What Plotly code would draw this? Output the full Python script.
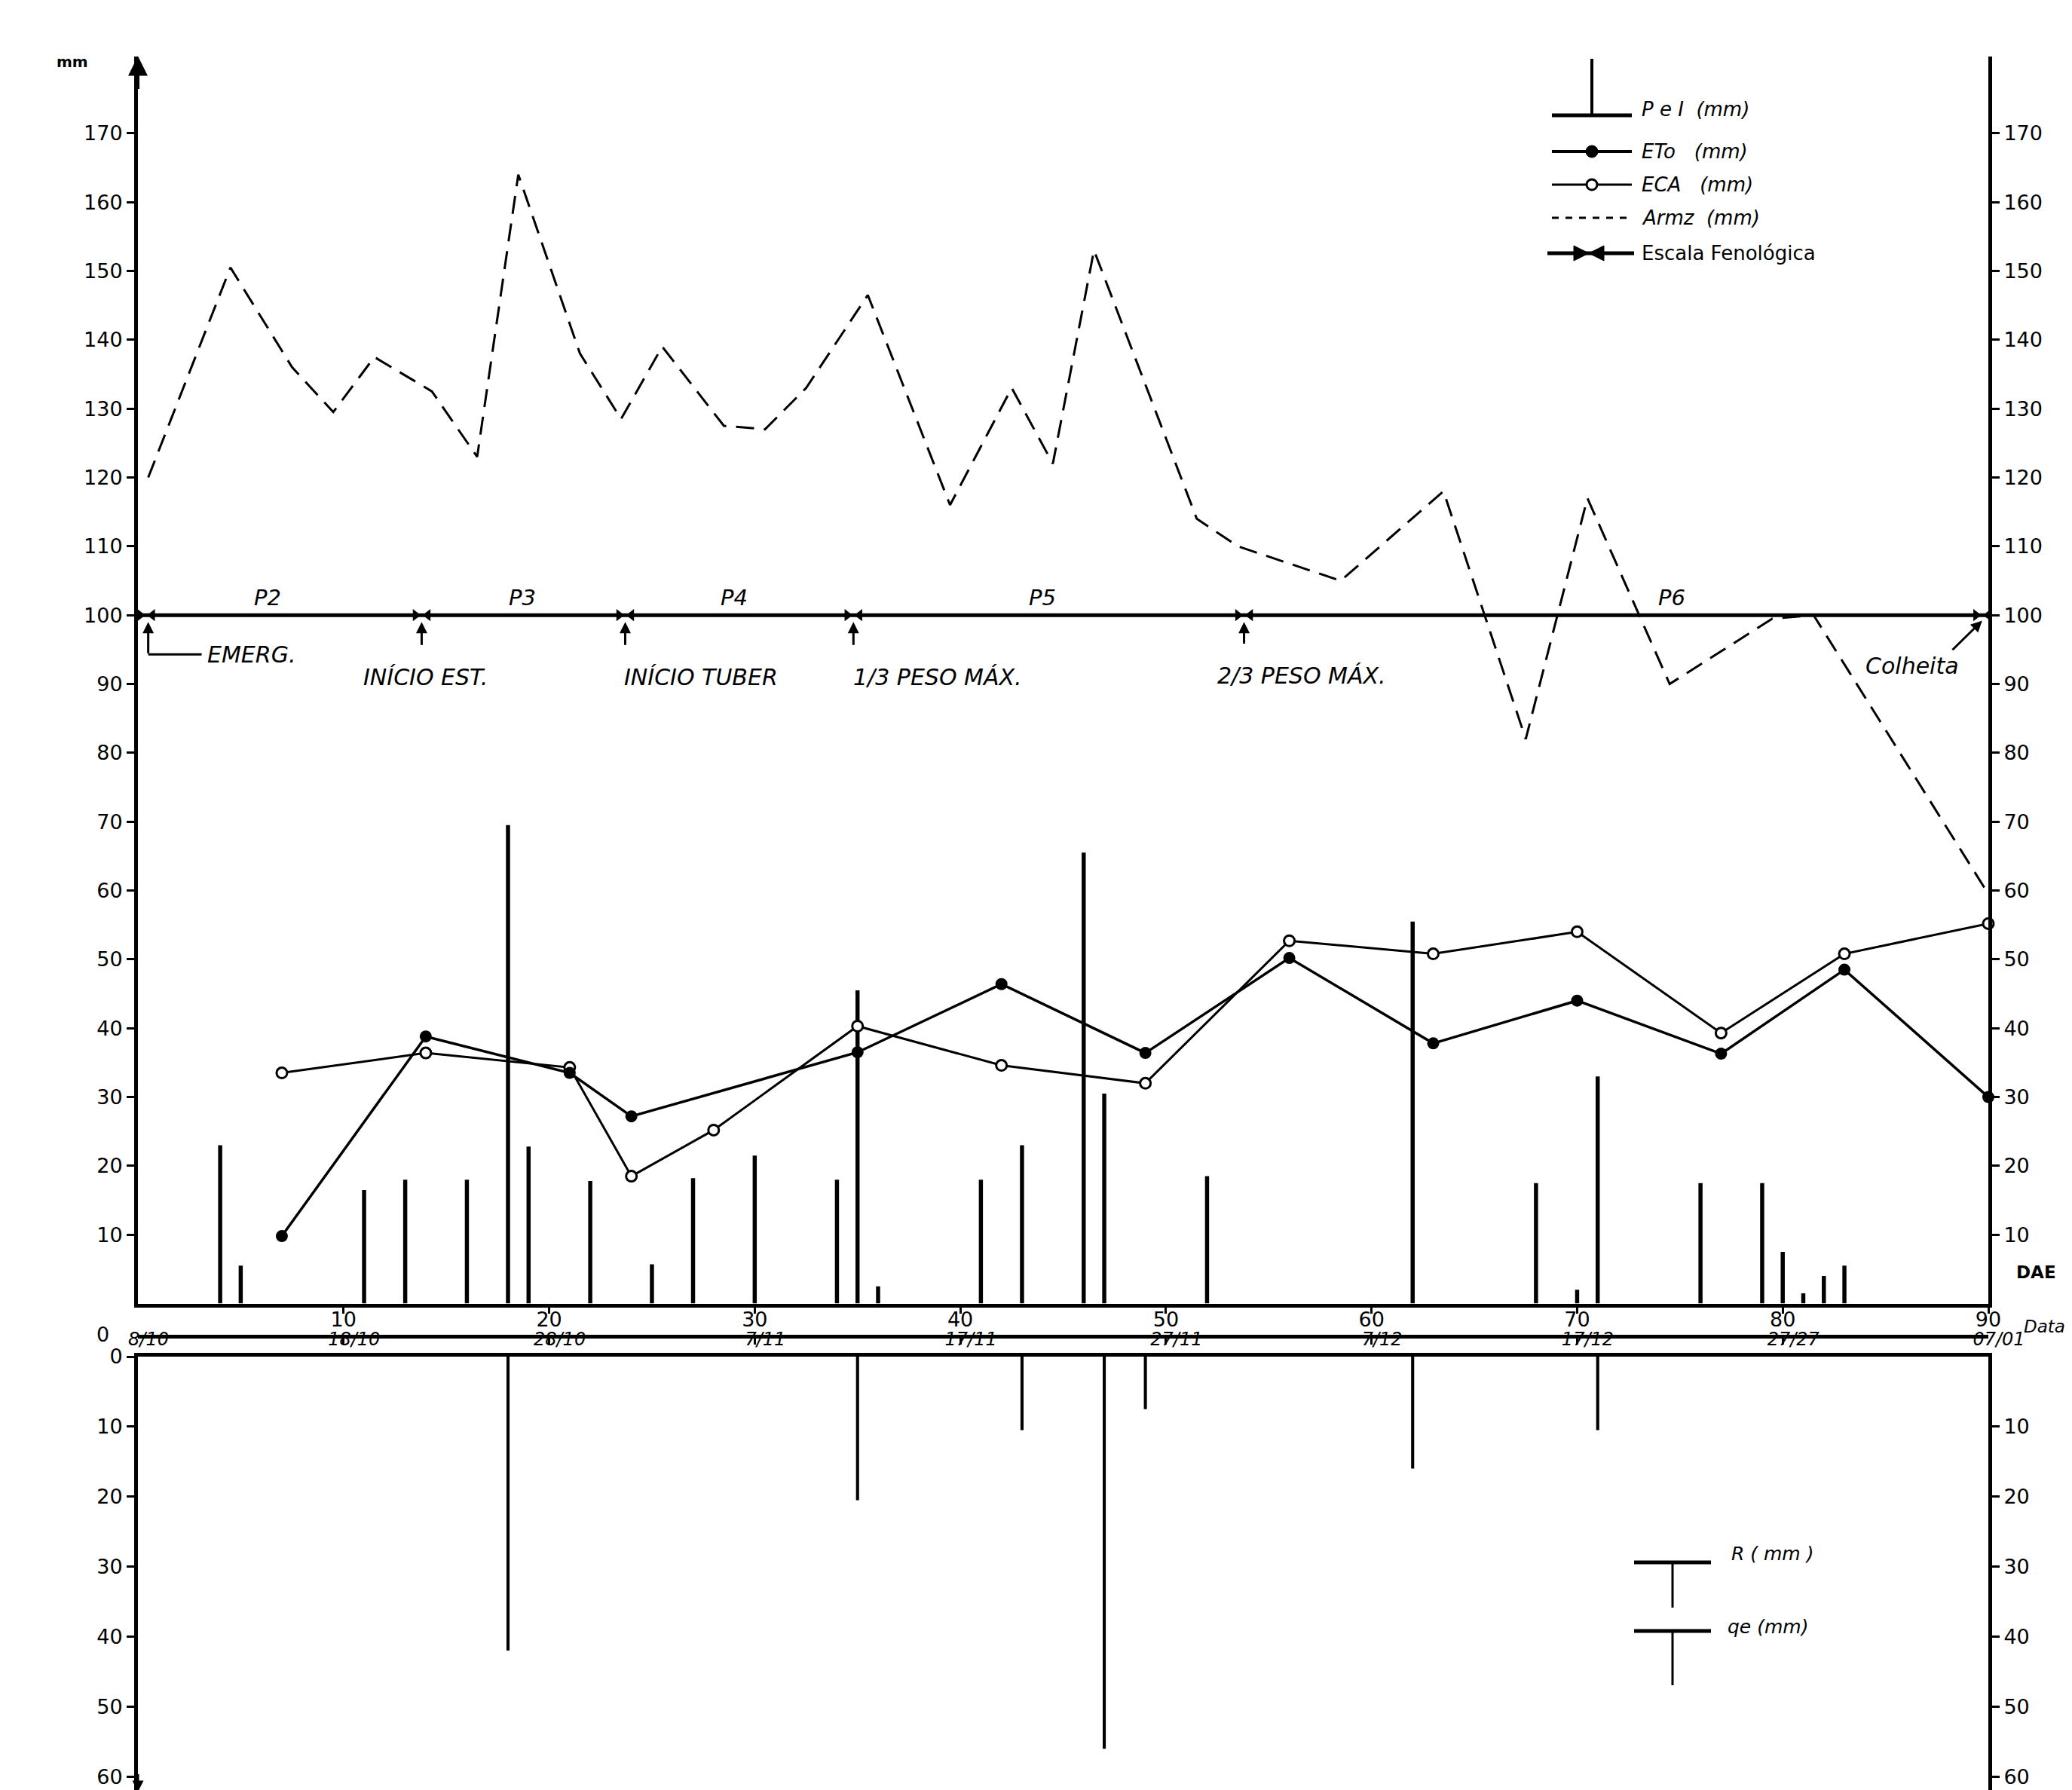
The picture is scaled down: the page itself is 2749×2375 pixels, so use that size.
import plotly.graph_objects as go

# ---------------- data ----------------
dae_ticks = [10, 20, 30, 40, 50, 60, 70, 80, 90]
date_tick_dae = [0, 10, 20, 30, 40, 50, 60, 70, 80, 90]
date_labels = ["8/10", "18/10", "28/10", "7/11", "17/11", "27/11", "7/12", "17/12", "27/27", "07/01"]
top_ticks = [10, 20, 30, 40, 50, 60, 70, 80, 90, 100, 110, 120, 130, 140, 150, 160, 170]
bottom_ticks = [0, 10, 20, 30, 40, 50, 60]

pei_dae = [4, 5, 11, 13, 16, 18, 19, 22, 25, 27, 30, 34, 35, 36, 41, 43, 46, 47, 52, 62, 68, 70, 71, 76, 79, 80, 81, 82, 83]
pei_mm = [23, 5.5, 16.5, 18, 18, 69.5, 22.8, 17.8, 5.7, 18.2, 21.5, 18, 45.5, 2.5, 18, 23, 65.5, 30.5, 18.5, 55.5, 17.5, 2, 33, 17.5, 17.5, 7.5, 1.5, 4, 5.5]

eto_dae = [7, 14, 21, 24, 35, 42, 49, 56, 63, 70, 77, 83, 90]
eto_mm = [9.8, 38.8, 33.5, 27.2, 36.5, 46.4, 36.4, 50.2, 37.8, 44, 36.3, 48.5, 30]

eca_dae = [7, 14, 21, 24, 28, 35, 42, 49, 56, 63, 70, 77, 83, 90]
eca_mm = [33.5, 36.4, 34.3, 18.5, 25.2, 40.3, 34.6, 32, 52.7, 50.8, 54, 39.3, 50.8, 55.2]

armz_dae = [0.5, 4.5, 7.5, 9.5, 11.5, 14.3, 16.5, 18.5, 21.5, 23.5, 25.5, 28.5, 30.5, 32.5, 35.5, 39.5, 42.5,
            44.5, 46.5, 51.5, 53.5, 58.5, 63.5, 67.5, 70.5, 74.5, 79.5, 81.5, 90]
armz_mm = [120, 150.5, 136, 129.5, 137.5, 132.5, 123, 164, 138, 128.5, 139, 127.5, 127, 133, 146.5, 116, 133,
           122, 153, 114, 110, 105, 118, 82, 117, 90, 99.5, 100, 59.5]

r_dae = [43, 49, 71]
r_mm = [10.5, 7.5, 10.5]
qe_dae = [18, 35, 47, 62]
qe_mm = [42, 20.5, 56, 16]

pheno_span = [0, 90]
pheno_level = 100
phase_dae = [0.4, 13.8, 23.7, 34.8, 53.8, 89.7]
phase_text = ["EMERG.", "INÍCIO EST.", "INÍCIO TUBER", "1/3 PESO MÁX.", "2/3 PESO MÁX.", "Colheita"]
phase_label_x = [3.3, 14.0, 27.4, 38.9, 56.6, 86.3]
phase_label_y = [94.3, 91.0, 91.0, 91.0, 91.2, 92.6]
period_pos = [6.3, 18.7, 29.0, 44.0, 74.6]
period_text = ["P2", "P3", "P4", "P5", "P6"]

# ---------------- geometry helpers ----------------
W, H = 2749, 2375
FONT = "DejaVu Sans, Liberation Sans, Arial, sans-serif"


def px(xp):
    return xp / W


def py(yp):
    return 1 - yp / H


X_DOM = [px(175), px(2630)]
TOP_DOM = [py(1721.6), py(66.6)]
TOP_MAX = (1721.6 - 66.6) / 9.134
BOT_DOM = [0, py(1792)]
BOT_MAX = (2375 - 1792) / 9.288

fig = go.Figure()

# P e I bars
fig.add_trace(go.Bar(x=pei_dae, y=pei_mm, width=0.2, marker=dict(color="black", line=dict(width=0)),
                     xaxis="x", yaxis="y", showlegend=False, name="P e I (mm)"))
# Armz dashed
fig.add_trace(go.Scatter(x=armz_dae, y=armz_mm, mode="lines",
                         line=dict(color="black", width=3, dash="24px,13px"),
                         xaxis="x", yaxis="y2", showlegend=False, name="Armz (mm)"))
# phenological scale
fig.add_trace(go.Scatter(x=pheno_span, y=[pheno_level] * len(pheno_span), mode="lines",
                         line=dict(color="black", width=5), xaxis="x", yaxis="y", showlegend=False,
                         cliponaxis=False, name="Escala Fenológica"))
fig.add_trace(go.Scatter(x=[d - 0.3 for d in phase_dae], y=[pheno_level] * len(phase_dae), mode="markers",
                         marker=dict(symbol="triangle-right", size=14, color="black"),
                         xaxis="x", yaxis="y", showlegend=False, cliponaxis=False))
fig.add_trace(go.Scatter(x=[d + 0.3 for d in phase_dae], y=[pheno_level] * len(phase_dae), mode="markers",
                         marker=dict(symbol="triangle-left", size=14, color="black"),
                         xaxis="x", yaxis="y", showlegend=False, cliponaxis=False))
# ECA open circles
fig.add_trace(go.Scatter(x=eca_dae, y=eca_mm, mode="lines+markers",
                         line=dict(color="black", width=3),
                         marker=dict(symbol="circle", size=14, color="white", line=dict(color="black", width=3)),
                         xaxis="x", yaxis="y", showlegend=False, cliponaxis=False, name="ECA (mm)"))
# ETo filled circles
fig.add_trace(go.Scatter(x=eto_dae, y=eto_mm, mode="lines+markers",
                         line=dict(color="black", width=3.5),
                         marker=dict(symbol="circle", size=16, color="black"),
                         xaxis="x", yaxis="y", showlegend=False, cliponaxis=False, name="ETo (mm)"))
# helper invisible trace for the DAE-number / "Data" axis line
fig.add_trace(go.Scatter(x=date_tick_dae, y=[0] * len(date_tick_dae), mode="markers",
                         marker=dict(opacity=0), xaxis="x2", yaxis="y", showlegend=False, hoverinfo="skip"))
# bottom panel R and qe
fig.add_trace(go.Bar(x=r_dae, y=r_mm, width=0.15, marker=dict(color="black", line=dict(width=0)),
                     xaxis="x3", yaxis="y3", showlegend=False, name="R (mm)"))
fig.add_trace(go.Bar(x=qe_dae, y=qe_mm, width=0.15, marker=dict(color="black", line=dict(width=0)),
                     xaxis="x3", yaxis="y4", showlegend=False, name="qe (mm)"))

tickfont = dict(family=FONT, size=27, color="black")
common = dict(showgrid=False, zeroline=False, linecolor="black", tickcolor="black",
              tickfont=tickfont, automargin=False)

fig.update_layout(
    width=W, height=H, autosize=False,
    margin=dict(l=0, r=0, t=0, b=0),
    paper_bgcolor="white", plot_bgcolor="white",
    barmode="overlay", showlegend=False,
    font=dict(family=FONT, color="black"),
    xaxis=dict(domain=X_DOM, range=[0, 90], anchor="y", showline=True, linewidth=5,
               ticks="outside", ticklen=8, tickwidth=3, tickvals=dae_ticks,
               showticklabels=False, **common),
    # DAE numbers sit above the second line
    xaxis2=dict(matches="x", overlaying="x", anchor="free", position=py(1765), side="top",
                showline=True, linewidth=5, ticks="inside", ticklen=8, tickwidth=3,
                tickvals=dae_ticks, ticktext=[str(v) for v in dae_ticks], **common),
    xaxis3=dict(domain=X_DOM, range=[0, 90], anchor="y3", side="top", showline=True, linewidth=5,
                ticks="", tickvals=date_tick_dae, ticktext=["<i>%s</i>" % t for t in date_labels],
                ticklabelshift=14,
                **{**common, "tickfont": dict(family=FONT, size=24, color="black")}),
    yaxis=dict(domain=TOP_DOM, range=[0, TOP_MAX], anchor="x", showline=True, linewidth=5,
               ticks="outside", ticklen=10, tickwidth=3, tickvals=top_ticks, **common),
    yaxis2=dict(matches="y", overlaying="y", side="right", anchor="x", showline=True, linewidth=5,
                ticks="outside", ticklen=10, tickwidth=3, tickvals=top_ticks, **common),
    yaxis3=dict(domain=BOT_DOM, range=[BOT_MAX, 0], anchor="x3", showline=True, linewidth=5,
                ticks="outside", ticklen=10, tickwidth=3, tickvals=bottom_ticks, **common),
    yaxis4=dict(matches="y3", overlaying="y3", side="right", anchor="x3", showline=True, linewidth=5,
                ticks="outside", ticklen=10, tickwidth=3, tickvals=bottom_ticks[1:], **common),
)

ann = []
shapes = []


def text(xp, yp, t, size=24, xanchor="center", italic=False):
    ann.append(dict(x=px(xp), y=py(yp), xref="paper", yref="paper", text=("<i>%s</i>" % t) if italic else t,
                    showarrow=False, xanchor=xanchor, yanchor="middle",
                    font=dict(family=FONT, size=size, color="black")))


# axis captions
text(88, 74, "<b>mm</b>", size=20)
text(128, 1762, "0", size=27)
text(2693, 1680, "<b>DAE</b>", size=23)
text(2704, 1752, "<i>Data</i>", size=23)

# arrow on top of left axis
ann.append(dict(x=0, y=TOP_MAX, xref="x", yref="y", ax=0, ay=45, showarrow=True, arrowhead=2,
                arrowsize=1.3, arrowwidth=4, arrowcolor="black", text=""))
ann.append(dict(x=0, y=BOT_MAX - 0.6, xref="x3", yref="y3", ax=0, ay=-25, showarrow=True, arrowhead=2,
                arrowsize=1.0, arrowwidth=3, arrowcolor="black", text=""))

# period labels
for xp, t in zip(period_pos, period_text):
    ann.append(dict(x=xp, y=pheno_level, xref="x", yref="y", text="<i>%s</i>" % t, showarrow=False,
                    yanchor="bottom", yshift=4, font=dict(family=FONT, size=29, color="black")))

# phase labels and arrows
for i, (d, t, lx, ly) in enumerate(zip(phase_dae, phase_text, phase_label_x, phase_label_y)):
    ann.append(dict(x=lx, y=ly, xref="x", yref="y", text="<i>%s</i>" % t, showarrow=False,
                    xanchor="left" if i == 0 else "center", yanchor="middle",
                    font=dict(family=FONT, size=30, color="black")))
    if i == 0:
        ann.append(dict(x=d + 0.1, y=pheno_level - 1, xref="x", yref="y", ax=d + 0.1, ay=ly,
                        axref="x", ayref="y", showarrow=True, arrowhead=2, arrowwidth=3,
                        arrowcolor="black", text=""))
        shapes.append(dict(type="line", xref="x", yref="y", x0=d + 0.1, x1=lx - 0.2, y0=ly, y1=ly,
                           line=dict(color="black", width=3)))
    elif i == len(phase_dae) - 1:
        ann.append(dict(x=d, y=pheno_level - 0.8, xref="x", yref="y", ax=lx + 1.9, ay=ly + 2.2,
                        axref="x", ayref="y", showarrow=True, arrowhead=2, arrowwidth=3,
                        arrowcolor="black", text=""))
    else:
        ann.append(dict(x=d, y=pheno_level - 1, xref="x", yref="y", ax=d, ay=ly + 4.5,
                        axref="x", ayref="y", showarrow=True, arrowhead=2, arrowwidth=3,
                        arrowcolor="black", text=""))


def pline(x0, y0, x1, y1, w=4, dash=None):
    ln = dict(color="black", width=w)
    if dash:
        ln["dash"] = dash
    shapes.append(dict(type="line", xref="paper", yref="paper", x0=px(x0), y0=py(y0), x1=px(x1), y1=py(y1),
                       line=ln))


def pcircle(cx, cy, r, fill, lw):
    shapes.append(dict(type="circle", xref="paper", yref="paper", x0=px(cx - r), x1=px(cx + r),
                       y0=py(cy + r), y1=py(cy - r), fillcolor=fill, line=dict(color="black", width=lw)))


def ptri(pts):
    path = "M " + " L ".join("%f,%f" % (px(a), py(b)) for a, b in pts) + " Z"
    shapes.append(dict(type="path", xref="paper", yref="paper", path=path, fillcolor="black",
                       line=dict(color="black", width=1)))


# top legend
LX0, LX1, LXC, LT = 2051, 2157, 2104, 2168
pline(LXC, 70, LXC, 145, 4)
pline(LX0, 145, LX1, 145, 5)
text(LT, 137, "P e I  (mm)", 26, "left", True)
pline(LX0, 193, LX1, 193, 4)
pcircle(LXC, 193, 8, "black", 1)
text(LT, 193, "ETo   (mm)", 26, "left", True)
pline(LX0, 237, LX1, 237, 3)
pcircle(LXC, 237, 7, "white", 3)
text(LT, 237, "ECA   (mm)", 26, "left", True)
pline(LX0, 281, LX1, 281, 3, "dash")
text(LT, 281, "Armz  (mm)", 26, "left", True)
pline(2045, 328, 2160, 328, 5)
ptri([(2080, 318), (2080, 338), (2100, 328)])
ptri([(2120, 318), (2120, 338), (2100, 328)])
text(LT, 328, "Escala Fenológica", 26, "left")

# bottom legend
pline(2160, 2065, 2262, 2065, 5)
pline(2211, 2065, 2211, 2125, 3)
text(2287, 2053, "R ( mm )", 25, "left", True)
pline(2160, 2156, 2262, 2156, 5)
pline(2211, 2156, 2211, 2228, 3)
text(2282, 2150, "qe (mm)", 25, "left", True)

fig.update_layout(annotations=ann, shapes=shapes)

fig.write_html("out.html", config={"displayModeBar": False})
